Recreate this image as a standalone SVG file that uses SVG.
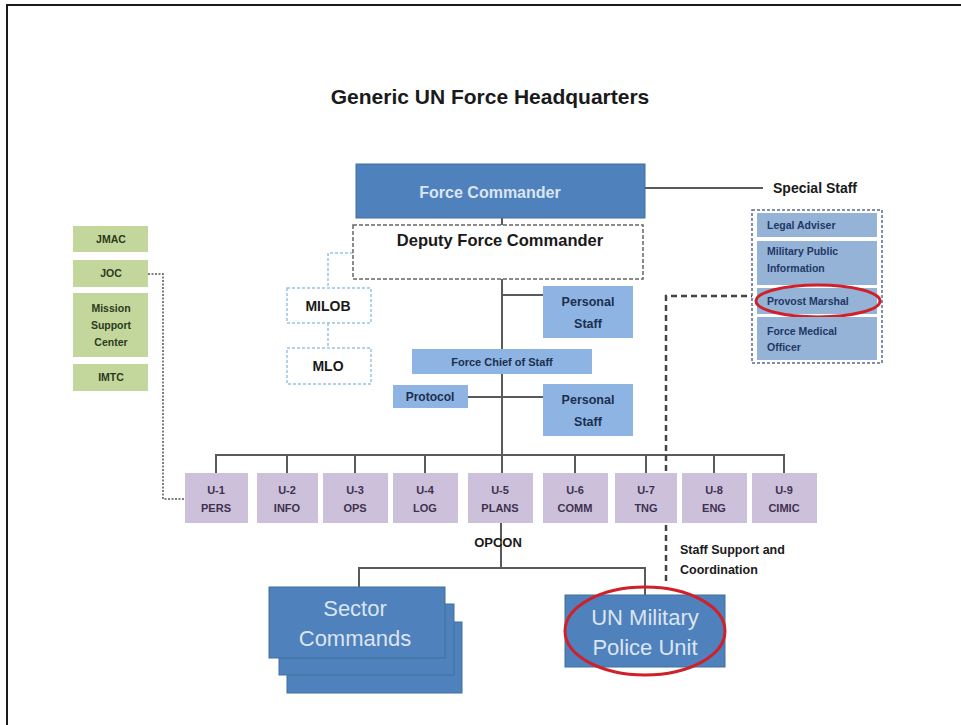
<svg xmlns="http://www.w3.org/2000/svg" width="961" height="725" viewBox="0 0 961 725">
<style>
text{font-family:"Liberation Sans",Arial,sans-serif;font-weight:bold;text-anchor:middle}
.blue{fill:#4F81BD;stroke:#41719c;stroke-width:1}
.lb{fill:#8DB4E2}
.ss{fill:#95B3D7}
.gr{fill:#C3D69B}
.u{fill:#CCC0DA}
.wt{fill:#dbe5f1;font-weight:normal}
.nv{fill:#1c2f4f}
.gt{fill:#2b3a1c;font-size:10.5px}
.ut{fill:#3f3151;font-size:11px}
.sst{fill:#1f3864;font-size:10.5px;text-anchor:start}
.ln{fill:none;stroke:#5a5a5a;stroke-width:2}
.red{fill:none;stroke:#d0202a;stroke-width:3}
</style>
<rect width="961" height="725" fill="#fff"/>
<g id="frame" fill="none" stroke="#1a1a1a" stroke-width="2"><path d="M7 725 V5 H961"/></g>
<text id="title" x="490" y="104" font-size="21" fill="#1a1a1a">Generic UN Force Headquarters</text>

<g id="connectors">
<path class="ln" d="M645 188 H763"/>
<path class="ln" d="M502 218 V225"/>
<path class="ln" d="M502 279 V473"/>
<path class="ln" d="M502 295 H543"/>
<path class="ln" d="M468 397 H543"/>
<path class="ln" d="M216 473 V455 H784 V473 M287 455 V473 M355 455 V473 M425 455 V473 M575 455 V473 M646 455 V473 M714 455 V473"/>
<path class="ln" d="M501 523 V568 M359 587 V568 H645 V595"/>
<path fill="none" stroke="#9cc2e5" stroke-width="1.5" stroke-dasharray="3,2" d="M353 253 H328 V288 M328 323 V348"/>
<path fill="none" stroke="#555" stroke-width="1.5" stroke-dasharray="2,1.5" d="M148 274 H163 V499 H185"/>
<path fill="none" stroke="#444" stroke-width="2.5" stroke-dasharray="6,4" d="M757 296 H666 V585"/>
</g>

<g id="force-commander"><rect class="blue" x="356" y="164" width="289" height="54"/><text class="wt" x="490" y="198" font-size="16" style="font-weight:bold">Force Commander</text></g>
<g id="deputy-force-commander"><rect x="353" y="225" width="290" height="54" fill="#fff" stroke="#666" stroke-width="1.5" stroke-dasharray="4,2"/><text x="500" y="246" font-size="16.5" fill="#1a1a1a">Deputy Force Commander</text></g>

<g id="special-staff">
<text x="773" y="193" font-size="14" fill="#1a1a1a" style="text-anchor:start">Special Staff</text>
<rect x="752" y="210" width="130" height="153" fill="#fff" stroke="#5a6a8a" stroke-width="1.5" stroke-dasharray="3,2"/>
</g>
<g id="legal-adviser"><rect class="ss" x="757" y="213" width="120" height="24"/><text class="sst" x="767" y="229">Legal Adviser</text></g>
<g id="military-public-information"><rect class="ss" x="757" y="241" width="120" height="44"/><text class="sst" x="767" y="255">Military Public</text><text class="sst" x="767" y="272">Information</text></g>
<g id="provost-marshal"><rect class="ss" x="757" y="288" width="120" height="26"/><text class="sst" x="767" y="305">Provost Marshal</text><ellipse class="red" cx="818" cy="301" rx="62" ry="16"/></g>
<g id="force-medical-officer"><rect class="ss" x="757" y="317" width="120" height="43"/><text class="sst" x="767" y="335">Force Medical</text><text class="sst" x="767" y="351">Officer</text></g>

<g id="jmac"><rect class="gr" x="73" y="226" width="75" height="26"/><text class="gt" x="111" y="243">JMAC</text></g>
<g id="joc"><rect class="gr" x="73" y="260" width="75" height="27"/><text class="gt" x="111" y="277">JOC</text></g>
<g id="mission-support-center"><rect class="gr" x="73" y="293" width="75" height="64"/><text class="gt" x="111" y="312">Mission</text><text class="gt" x="111" y="329">Support</text><text class="gt" x="111" y="346">Center</text></g>
<g id="imtc"><rect class="gr" x="73" y="364" width="75" height="27"/><text class="gt" x="111" y="381">IMTC</text></g>

<g id="milob"><rect x="287" y="288" width="84" height="35" fill="#fff" stroke="#9cc2e5" stroke-width="1.5" stroke-dasharray="3,2"/><text x="328" y="311" font-size="14" fill="#1a1a1a">MILOB</text></g>
<g id="mlo"><rect x="287" y="348" width="84" height="36" fill="#fff" stroke="#9cc2e5" stroke-width="1.5" stroke-dasharray="3,2"/><text x="328" y="371" font-size="14" fill="#1a1a1a">MLO</text></g>

<g id="personal-staff-1"><rect class="lb" x="543" y="286" width="90" height="52"/><text class="nv" x="588" y="306" font-size="12.5">Personal</text><text class="nv" x="588" y="328" font-size="12.5">Staff</text></g>
<g id="force-chief-of-staff"><rect class="lb" x="412" y="349" width="180" height="25"/><text class="nv" x="502" y="366" font-size="11">Force Chief of Staff</text></g>
<g id="protocol"><rect class="lb" x="393" y="385" width="75" height="23"/><text class="nv" x="430" y="401" font-size="12">Protocol</text></g>
<g id="personal-staff-2"><rect class="lb" x="543" y="384" width="90" height="52"/><text class="nv" x="588" y="404" font-size="12.5">Personal</text><text class="nv" x="588" y="426" font-size="12.5">Staff</text></g>

<g id="u1"><rect class="u" x="185" y="473" width="63" height="50"/><text class="ut" x="216" y="494">U-1</text><text class="ut" x="216" y="512">PERS</text></g>
<g id="u2"><rect class="u" x="257" y="473" width="61" height="50"/><text class="ut" x="287" y="494">U-2</text><text class="ut" x="287" y="512">INFO</text></g>
<g id="u3"><rect class="u" x="323" y="473" width="65" height="50"/><text class="ut" x="355" y="494">U-3</text><text class="ut" x="355" y="512">OPS</text></g>
<g id="u4"><rect class="u" x="393" y="473" width="65" height="50"/><text class="ut" x="425" y="494">U-4</text><text class="ut" x="425" y="512">LOG</text></g>
<g id="u5"><rect class="u" x="468" y="473" width="65" height="50"/><text class="ut" x="500" y="494">U-5</text><text class="ut" x="500" y="512">PLANS</text></g>
<g id="u6"><rect class="u" x="543" y="473" width="65" height="50"/><text class="ut" x="575" y="494">U-6</text><text class="ut" x="575" y="512">COMM</text></g>
<g id="u7"><rect class="u" x="615" y="473" width="62" height="50"/><text class="ut" x="646" y="494">U-7</text><text class="ut" x="646" y="512">TNG</text></g>
<g id="u8"><rect class="u" x="682" y="473" width="65" height="50"/><text class="ut" x="714" y="494">U-8</text><text class="ut" x="714" y="512">ENG</text></g>
<g id="u9"><rect class="u" x="752" y="473" width="65" height="50"/><text class="ut" x="784" y="494">U-9</text><text class="ut" x="784" y="512">CIMIC</text></g>

<text id="opcon" x="498" y="547" font-size="13" fill="#1a1a1a">OPCON</text>
<g id="staff-support-label"><text x="680" y="554" font-size="12.5" fill="#1a1a1a" style="text-anchor:start">Staff Support and</text><text x="680" y="574" font-size="12.5" fill="#1a1a1a" style="text-anchor:start">Coordination</text></g>

<g id="sector-commands">
<rect class="blue" x="287" y="622" width="175" height="71"/>
<rect class="blue" x="279" y="604" width="175" height="71"/>
<rect class="blue" x="269" y="587" width="176" height="71"/>
<text class="wt" x="355" y="616" font-size="22">Sector</text>
<text class="wt" x="355" y="646" font-size="22">Commands</text>
</g>
<g id="un-military-police-unit">
<rect class="blue" x="565" y="595" width="160" height="72"/>
<text class="wt" x="645" y="625" font-size="22">UN Military</text>
<text class="wt" x="645" y="655" font-size="22">Police Unit</text>
<ellipse class="red" cx="645" cy="631" rx="80" ry="44"/>
</g>
</svg>
